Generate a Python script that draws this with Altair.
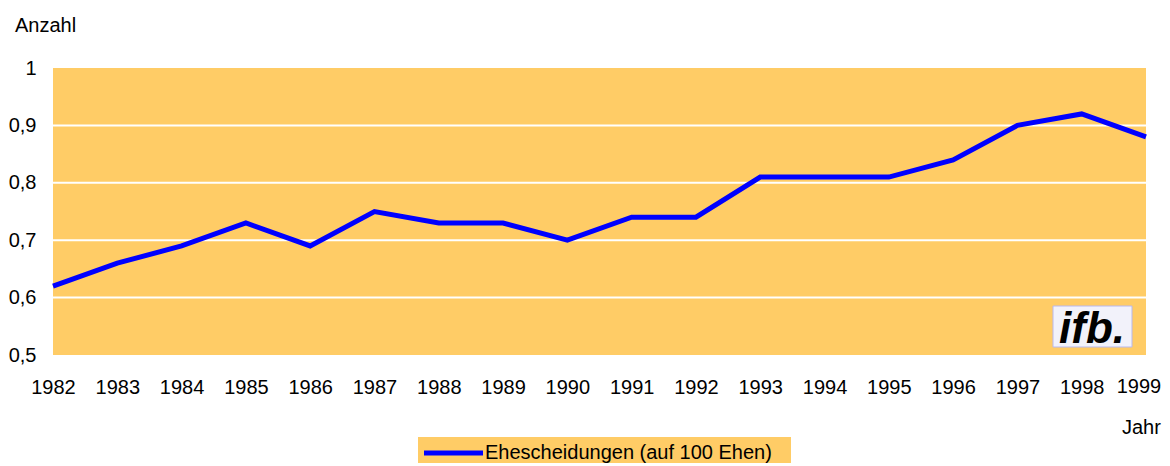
import altair as alt
import pandas as pd

years = [str(y) for y in range(1982, 2000)]
values = [0.62, 0.66, 0.69, 0.73, 0.69, 0.75, 0.73, 0.73, 0.70, 0.74,
          0.74, 0.81, 0.81, 0.81, 0.84, 0.90, 0.92, 0.88]
series_name = "Ehescheidungen (auf 100 Ehen)"
grid_values = [0.6, 0.7, 0.8, 0.9]
y_ticks = [0.5, 0.6, 0.7, 0.8, 0.9, 1.0]

df = pd.DataFrame({"Jahr": years, "Wert": values, "Serie": series_name})
grid_df = pd.DataFrame({"g": grid_values})
last_df = pd.DataFrame({"Jahr": [years[-1]]})

FONT = "Liberation Sans"
W, H = 1093, 287
BLUE = "#0000FF"
ORANGE = "#FFCC66"
LAST = years[-1]

x_scale = alt.Scale(type="point", padding=0, domain=years)
x_enc = alt.X("Jahr:N", scale=x_scale,
              axis=alt.Axis(title=None, labelAngle=0, ticks=False, domain=False,
                            labelFontSize=20, labelFont=FONT, labelColor="black",
                            labelPadding=22, grid=False, labelOverlap=False,
                            labelExpr=f"datum.value == '{LAST}' ? '' : datum.label"))
y_scale = alt.Scale(domain=[0.5, 1.0], nice=False, zero=False)

grid = alt.Chart(grid_df).mark_rule(color="white", strokeWidth=2).encode(
    y=alt.Y("g:Q", scale=y_scale,
            axis=alt.Axis(values=y_ticks, title=None, ticks=False, domain=False,
                          grid=False, labelFontSize=20, labelFont=FONT,
                          labelColor="black", labelPadding=17,
                          labelExpr="replace(format(datum.value, '.1~f'), '.', ',')"))
)

line = alt.Chart(df).mark_line(strokeWidth=5).encode(
    x=x_enc,
    y=alt.Y("Wert:Q", scale=y_scale),
    color=alt.Color("Serie:N", scale=alt.Scale(domain=[series_name], range=[BLUE]),
                    legend=None)
)

# last x label, nudged left so it stays inside the page
last_label = alt.Chart(last_df).mark_text(
    align="center", baseline="top", fontSize=20, font=FONT, color="black", dx=-7
).encode(x=alt.X("Jahr:N", scale=x_scale), text="Jahr:N", y=alt.value(H + 22))

anzahl = alt.Chart(pd.DataFrame({"t": ["Anzahl"]})).mark_text(
    align="left", baseline="alphabetic", fontSize=20, font=FONT, color="black"
).encode(text="t:N", x=alt.value(-38), y=alt.value(-36))

jahr = alt.Chart(pd.DataFrame({"t": ["Jahr"]})).mark_text(
    align="left", baseline="alphabetic", fontSize=20, font=FONT, color="black"
).encode(text="t:N", x=alt.value(1069), y=alt.value(366))

# legend (drawn manually)
leg_box = alt.Chart(pd.DataFrame({"a": [1]})).mark_rect(fill=ORANGE).encode(
    x=alt.value(365), x2=alt.value(738), y=alt.value(369), y2=alt.value(400))
leg_line = alt.Chart(pd.DataFrame({"a": [1]})).mark_rule(color=BLUE, strokeWidth=5).encode(
    x=alt.value(371), x2=alt.value(430), y=alt.value(385))
leg_text = alt.Chart(pd.DataFrame({"t": [series_name]})).mark_text(
    align="left", baseline="middle", fontSize=20, font=FONT, color="black"
).encode(text="t:N", x=alt.value(432), y=alt.value(385))

logo_box = alt.Chart(pd.DataFrame({"a": [1]})).mark_rect(
    fill="#F2F2FA", stroke="#B8B8EE", strokeWidth=1
).encode(x=alt.value(1000), x2=alt.value(1079), y=alt.value(238), y2=alt.value(279))

logo_text = alt.Chart(pd.DataFrame({"t": ["ifb."]})).mark_text(
    align="center", baseline="alphabetic", fontSize=44, font=FONT,
    fontWeight="bold", fontStyle="italic", color="black"
).encode(text="t:N", x=alt.value(1039), y=alt.value(275))

chart = alt.layer(grid, line, last_label, anzahl, jahr, leg_box, leg_line, leg_text,
                  logo_box, logo_text).properties(
    width=W, height=H,
    autosize=alt.AutoSizeParams(type="none"),
    padding={"left": 45, "top": 60, "right": 16, "bottom": 108},
).configure_view(fill=ORANGE, stroke=None)

chart.save("out.html", embed_options={"renderer": "svg", "actions": False})
